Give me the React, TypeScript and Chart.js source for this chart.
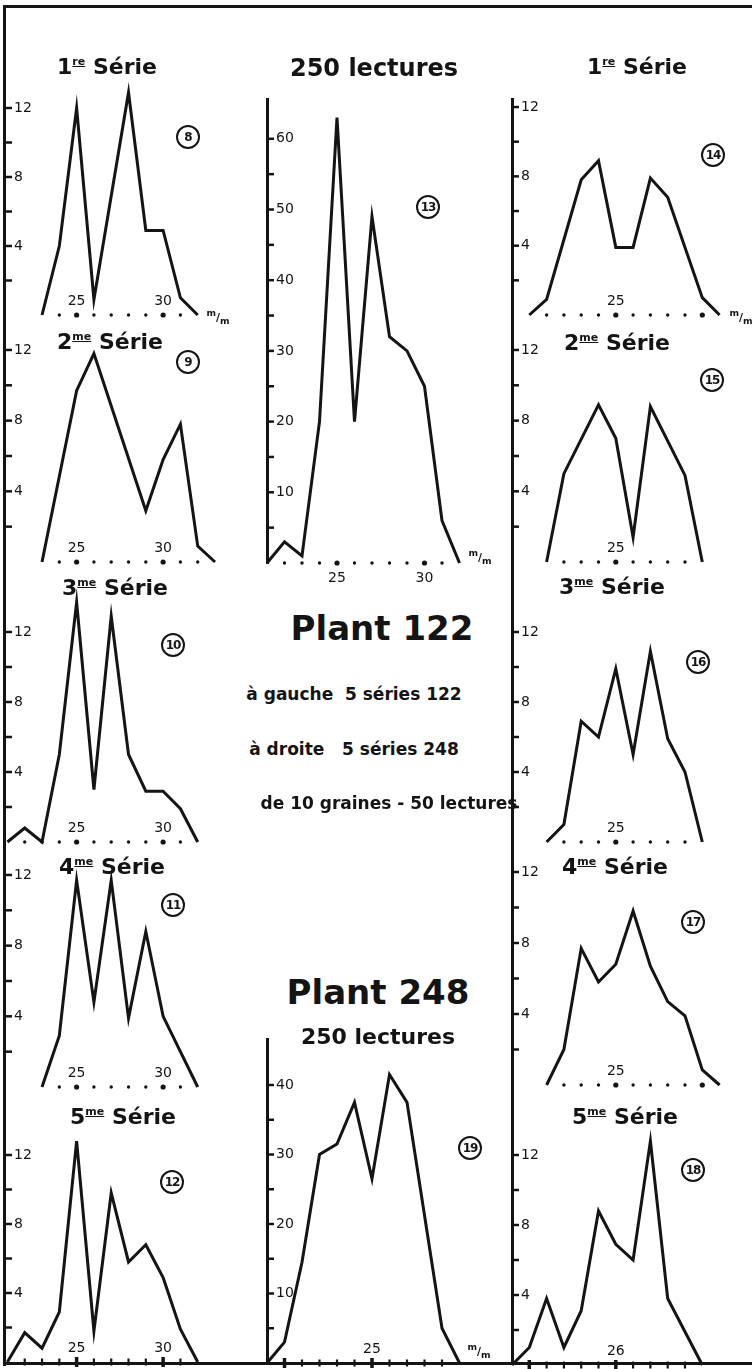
import React, { useEffect, useRef } from "react";
import { Chart, registerables } from "chart.js";

Chart.register(...registerables);

// ---------------- DATA (x = diamètre en m/m, y = nombre de lectures) ----------------
// Plant 122 – left column
const p8X = [23, 24, 25, 26, 28, 29, 30, 31, 32];
const p8Y = [0, 4, 12, 0.9, 12.9, 4.9, 4.9, 1, 0];
const p9X = [23, 25, 26, 29, 30, 31, 32, 33];
const p9Y = [0, 9.7, 11.8, 2.9, 5.8, 7.8, 0.9, 0];
const p10X = [21, 22, 23, 24, 25, 26, 27, 28, 29, 30, 31, 32];
const p10Y = [0, 0.8, 0, 5, 13.7, 3, 12.9, 5, 2.9, 2.9, 1.9, 0];
const p11X = [23, 24, 25, 26, 27, 28, 29, 30, 32];
const p11Y = [0, 2.9, 11.7, 4.8, 11.7, 3.9, 8.8, 4, 0];
const p12X = [21, 22, 23, 24, 25, 26, 27, 28, 29, 30, 31, 32];
const p12Y = [0, 1.7, 0.8, 2.9, 12.8, 1.8, 9.8, 5.8, 6.8, 4.9, 1.9, 0];
// totals (250 lectures)
const p13X = [21, 22, 23, 24, 25, 26, 27, 28, 29, 30, 31, 32];
const p13Y = [0, 3, 1, 20, 63, 20, 49, 32, 30, 25, 6, 0];
const p19X = [19, 20, 21, 22, 23, 24, 25, 26, 27, 29, 30];
const p19Y = [0, 3, 14.5, 30, 31.5, 37.5, 26.5, 41.5, 37.5, 5, 0];
// Plant 248 – right column
const p14X = [20, 21, 23, 24, 25, 26, 27, 28, 30, 31];
const p14Y = [0, 0.9, 7.8, 8.9, 3.9, 3.9, 7.9, 6.8, 1, 0];
const p15X = [21, 22, 24, 25, 26, 27, 29, 30];
const p15Y = [0, 5, 8.9, 7, 1.4, 8.8, 4.9, 0];
const p16X = [21, 22, 23, 24, 25, 26, 27, 28, 29, 30];
const p16Y = [0, 1, 6.9, 6, 9.9, 5, 10.9, 5.9, 4, 0];
const p17X = [21, 22, 23, 24, 25, 26, 27, 28, 29, 30, 31];
const p17Y = [0, 2, 7.7, 5.8, 6.8, 9.8, 6.7, 4.7, 3.9, 0.85, 0];
const p18X = [20, 21, 22, 23, 24, 25, 26, 27, 28, 29, 31];
const p18Y = [0, 1, 3.8, 1, 3.1, 8.8, 6.9, 6, 12.8, 3.8, 0];

// baseline millimetre marks
const marks8 = [24, 25, 26, 27, 28, 29, 30, 31];
const marks9 = [24, 25, 26, 27, 28, 29, 30, 31, 32];
const marks10 = [22, 23, 24, 25, 26, 27, 28, 29, 30, 31];
const marks11 = [24, 25, 26, 27, 28, 29, 30, 31];
const marks12 = [22, 23, 24, 25, 26, 27, 28, 29, 30, 31];
const marks13 = [22, 23, 24, 25, 26, 27, 28, 29, 30, 31];
const marks19 = [20, 21, 22, 23, 24, 25, 26, 27, 28, 29];
const marks14 = [21, 22, 23, 24, 25, 26, 27, 28, 29, 30];
const marks15 = [22, 23, 24, 25, 26, 27, 28, 29];
const marks16 = [22, 23, 24, 25, 26, 27, 28, 29];
const marks17 = [22, 23, 24, 25, 26, 27, 28, 29, 30];
const marks18 = [21, 22, 23, 24, 25, 26, 27, 28, 29, 30];
const bigMarks = [25, 30];
const bigMarks18 = [21, 26];
const bigMarks19 = [20, 25];

// tick labels
const xLabelsLeft = [25, 30];
const xLabelsRight = [25];
const xLabels18 = [26];
const ySideTicks = [2, 4, 6, 8, 10, 12];
const ySideLabels = [4, 8, 12];
const yTopTicks = [5, 10, 15, 20, 25, 30, 35, 40, 45, 50, 55, 60];
const yTopLabels = [10, 20, 30, 40, 50, 60];
const yBotTicks = [5, 10, 15, 20, 25, 30, 35, 40];
const yBotLabels = [10, 20, 30, 40];

// ---------------- STYLE / LAYOUT ----------------
const INK = "#141414";
const FONT = "'DejaVu Sans', 'Liberation Sans', sans-serif";
const TICK_PAD = 9;

type PanelCfg = {
  xs: number[];
  ys: number[];
  marks: number[];
  big: number[];
  xLabels: number[];
  yTicks: number[];
  yLabels: number[];
  markStyle: "dot" | "tick";
  labelDy: number;
  ax: number;
  by: number;
  xMin: number;
  xMax: number;
  xppu: number;
  yppu: number;
  yTop: number;
  axisLine: boolean;
};

const LEFT = { ax: 5, xMin: 20.86, xMax: 33.5, xppu: 17.3, yTop: 14, axisLine: false };
const RIGHT = { ax: 512, xMin: 19, xMax: 31.5, xppu: 17.3, yTop: 14, axisLine: false };
const SIDE = { yTicks: ySideTicks, yLabels: ySideLabels, labelDy: -14 };

const panels: PanelCfg[] = [
  { ...LEFT, ...SIDE, xs: p8X, ys: p8Y, marks: marks8, big: bigMarks, xLabels: xLabelsLeft, markStyle: "dot", by: 315, yppu: 17.25 },
  { ...LEFT, ...SIDE, xs: p9X, ys: p9Y, marks: marks9, big: bigMarks, xLabels: xLabelsLeft, markStyle: "dot", by: 562, yppu: 17.67 },
  { ...LEFT, ...SIDE, xs: p10X, ys: p10Y, marks: marks10, big: bigMarks, xLabels: xLabelsLeft, markStyle: "dot", by: 842, yppu: 17.5 },
  { ...LEFT, ...SIDE, xs: p11X, ys: p11Y, marks: marks11, big: bigMarks, xLabels: xLabelsLeft, markStyle: "dot", by: 1087, yppu: 17.67 },
  { ...LEFT, ...SIDE, xs: p12X, ys: p12Y, marks: marks12, big: bigMarks, xLabels: xLabelsLeft, markStyle: "tick", by: 1362, yppu: 17.25 },
  { ...RIGHT, ...SIDE, xs: p14X, ys: p14Y, marks: marks14, big: bigMarks, xLabels: xLabelsRight, markStyle: "dot", by: 315, yppu: 17.33 },
  { ...RIGHT, ...SIDE, xs: p15X, ys: p15Y, marks: marks15, big: bigMarks, xLabels: xLabelsRight, markStyle: "dot", by: 562, yppu: 17.67 },
  { ...RIGHT, ...SIDE, xs: p16X, ys: p16Y, marks: marks16, big: bigMarks, xLabels: xLabelsRight, markStyle: "dot", by: 842, yppu: 17.5 },
  { ...RIGHT, ...SIDE, xs: p17X, ys: p17Y, marks: marks17, big: bigMarks, xLabels: xLabelsRight, markStyle: "dot", by: 1085, yppu: 17.75 },
  { ...RIGHT, ...SIDE, xMin: 20, xMax: 32.5, xs: p18X, ys: p18Y, marks: marks18, big: bigMarks18, xLabels: xLabels18, markStyle: "tick", by: 1365, yppu: 17.5 },
  {
    xs: p13X, ys: p13Y, marks: marks13, big: bigMarks, xLabels: xLabelsLeft, yTicks: yTopTicks, yLabels: yTopLabels,
    markStyle: "dot", labelDy: 15, ax: 267, by: 563, xMin: 21, xMax: 32.5, xppu: 17.5, yppu: 7.07, yTop: 65.5, axisLine: true,
  },
  {
    xs: p19X, ys: p19Y, marks: marks19, big: bigMarks19, xLabels: xLabelsRight, yTicks: yBotTicks, yLabels: yBotLabels,
    markStyle: "tick", labelDy: -14, ax: 267, by: 1363, xMin: 19, xMax: 30.5, xppu: 17.5, yppu: 6.95, yTop: 46.5, axisLine: true,
  },
];

const axisDecor = {
  id: "axisDecor",
  afterDraw(chart: any, _args: any, opts: any) {
    const { ctx, chartArea } = chart;
    const xs = chart.scales.x;
    const ys = chart.scales.y;
    ctx.save();
    ctx.strokeStyle = INK;
    ctx.lineWidth = 2.5;
    for (const t of ys.ticks) {
      const py = ys.getPixelForValue(t.value);
      ctx.beginPath();
      ctx.moveTo(chartArea.left, py);
      ctx.lineTo(chartArea.left + 7, py);
      ctx.stroke();
    }
    ctx.fillStyle = INK;
    ctx.font = `14px ${FONT}`;
    ctx.textAlign = "center";
    ctx.textBaseline = "middle";
    for (const v of opts.xLabels as number[]) {
      ctx.fillText(String(v), xs.getPixelForValue(v), chartArea.bottom + opts.labelDy);
    }
    ctx.restore();
  },
};

function PanelChart({ p }: { p: PanelCfg }) {
  const ref = useRef<HTMLCanvasElement | null>(null);
  const padL = 8;
  const scaleW = 2 * TICK_PAD; // width Chart.js reserves for a mirrored y axis
  const plotW = (p.xMax - p.xMin) * p.xppu;
  const plotH = p.yTop * p.yppu;
  const left = p.ax - padL - scaleW;
  const top = Math.round(p.by - plotH - 24);
  const padT = p.by - plotH - top;
  const width = Math.ceil(padL + scaleW + plotW + 10);
  const padR = width - padL - scaleW - plotW;
  const height = Math.ceil(p.by + 24 - top);
  const padB = top + height - p.by;

  useEffect(() => {
    const canvas = ref.current;
    if (!canvas) return;
    const isBig = (v: number) => p.big.includes(v);
    const chart = new Chart(canvas, {
      type: "line",
      data: {
        datasets: [
          {
            data: p.xs.map((x, i) => ({ x, y: p.ys[i] })),
            borderColor: INK,
            borderWidth: 3,
            pointRadius: 0,
            tension: 0,
            clip: false as any,
            borderJoinStyle: "miter",
          },
          {
            data: p.marks.map((x) => ({ x, y: 0 })),
            showLine: false,
            clip: false as any,
            pointStyle: p.markStyle === "dot" ? "circle" : "line",
            pointRotation: p.markStyle === "dot" ? 0 : 90,
            pointRadius: (c: any) => (p.markStyle === "dot" ? (isBig(c.raw.x) ? 2.6 : 1.7) : isBig(c.raw.x) ? 5 : 3.5),
            pointBackgroundColor: INK,
            pointBorderColor: INK,
            pointBorderWidth: (c: any) => (p.markStyle === "dot" ? 0 : isBig(c.raw.x) ? 3.5 : 2.2),
          } as any,
        ],
      },
      options: {
        animation: false,
        responsive: false,
        maintainAspectRatio: false,
        events: [],
        layout: { padding: { left: padL, right: padR, top: padT, bottom: padB } },
        plugins: {
          legend: { display: false },
          tooltip: { enabled: false },
          axisDecor: { xLabels: p.xLabels, labelDy: p.labelDy },
        } as any,
        scales: {
          x: { type: "linear", display: false, min: p.xMin, max: p.xMax },
          y: {
            type: "linear",
            position: "left",
            min: 0,
            max: p.yTop,
            grid: { display: false, drawTicks: false },
            border: { display: p.axisLine, color: INK, width: 3 },
            afterBuildTicks: (s: any) => {
              s.ticks = p.yTicks.map((v) => ({ value: v }));
            },
            ticks: {
              mirror: true,
              padding: TICK_PAD,
              color: INK,
              font: { family: FONT, size: 14 },
              callback: (v: any) => (p.yLabels.includes(Number(v)) ? String(v) : ""),
            },
          },
        },
      },
      plugins: [axisDecor],
    });
    return () => chart.destroy();
  }, []);

  return (
    <canvas
      ref={ref}
      width={width}
      height={height}
      style={{ position: "absolute", left, top, width, height }}
    />
  );
}

const titles = [
  { n: "1", s: "re", x: 107, y: 67 },
  { n: "2", s: "me", x: 110, y: 342 },
  { n: "3", s: "me", x: 115, y: 588 },
  { n: "4", s: "me", x: 112, y: 867 },
  { n: "5", s: "me", x: 123, y: 1117 },
  { n: "1", s: "re", x: 637, y: 67 },
  { n: "2", s: "me", x: 617, y: 343 },
  { n: "3", s: "me", x: 612, y: 587 },
  { n: "4", s: "me", x: 615, y: 867 },
  { n: "5", s: "me", x: 625, y: 1117 },
];

const circles = [
  { t: "8", x: 188, y: 137 },
  { t: "9", x: 188, y: 362 },
  { t: "10", x: 173, y: 645 },
  { t: "11", x: 173, y: 905 },
  { t: "12", x: 172, y: 1182 },
  { t: "13", x: 428, y: 207 },
  { t: "14", x: 713, y: 155 },
  { t: "15", x: 712, y: 380 },
  { t: "16", x: 698, y: 662 },
  { t: "17", x: 693, y: 922 },
  { t: "18", x: 693, y: 1170 },
  { t: "19", x: 470, y: 1148 },
];

const units = [
  { x: 218, y: 317 },
  { x: 741, y: 317 },
  { x: 480, y: 557 },
  { x: 479, y: 1351 },
];

const center: React.CSSProperties = {
  position: "absolute",
  transform: "translate(-50%, -50%)",
  whiteSpace: "nowrap",
  lineHeight: 1,
  color: INK,
};

export default function App() {
  const line = (l: number, t: number, w: number, h: number) => (
    <div style={{ position: "absolute", left: l, top: t, width: w, height: h, background: INK }} />
  );
  return (
    <div
      style={{
        position: "absolute",
        left: 0,
        top: 0,
        width: 752,
        height: 1369,
        background: "#fff",
        overflow: "hidden",
        fontFamily: FONT,
      }}
    >
      {line(3, 5, 749, 3)}
      {line(3, 5, 3, 1361)}
      {line(3, 1362, 749, 3)}
      {line(511, 98, 3, 1267)}
      {panels.map((p, i) => (
        <PanelChart key={i} p={p} />
      ))}
      {titles.map((t, i) => (
        <div key={"t" + i} style={{ ...center, left: t.x, top: t.y, fontSize: 22, fontWeight: 700 }}>
          {t.n}
          <sup style={{ fontSize: 11, verticalAlign: "9px", textDecoration: "underline" }}>{t.s}</sup> Série
        </div>
      ))}
      {circles.map((c, i) => (
        <div
          key={"c" + i}
          style={{
            ...center,
            left: c.x,
            top: c.y,
            width: 20,
            height: 20,
            border: `2px solid ${INK}`,
            borderRadius: "50%",
            fontSize: 12,
            fontWeight: 700,
            display: "flex",
            alignItems: "center",
            justifyContent: "center",
            letterSpacing: -1,
          }}
        >
          {c.t}
        </div>
      ))}
      {units.map((u, i) => (
        <div key={"u" + i} style={{ ...center, left: u.x, top: u.y, fontSize: 11, fontWeight: 700 }}>
          <sup>m</sup>/<sub>m</sub>
        </div>
      ))}
      <div style={{ ...center, left: 374, top: 68, fontSize: 24, fontWeight: 700 }}>250 lectures</div>
      <div style={{ ...center, left: 382, top: 628, fontSize: 34, fontWeight: 700 }}>Plant 122</div>
      <div style={{ ...center, left: 354, top: 694, fontSize: 17, fontWeight: 700 }}>à gauche&nbsp;&nbsp;5 séries 122</div>
      <div style={{ ...center, left: 354, top: 749, fontSize: 17, fontWeight: 700 }}>à droite&nbsp;&nbsp;&nbsp;5 séries 248</div>
      <div style={{ ...center, left: 389, top: 803, fontSize: 17, fontWeight: 700 }}>de 10 graines - 50 lectures</div>
      <div style={{ ...center, left: 378, top: 992, fontSize: 34, fontWeight: 700 }}>Plant 248</div>
      <div style={{ ...center, left: 378, top: 1037, fontSize: 22, fontWeight: 700 }}>250 lectures</div>
    </div>
  );
}
